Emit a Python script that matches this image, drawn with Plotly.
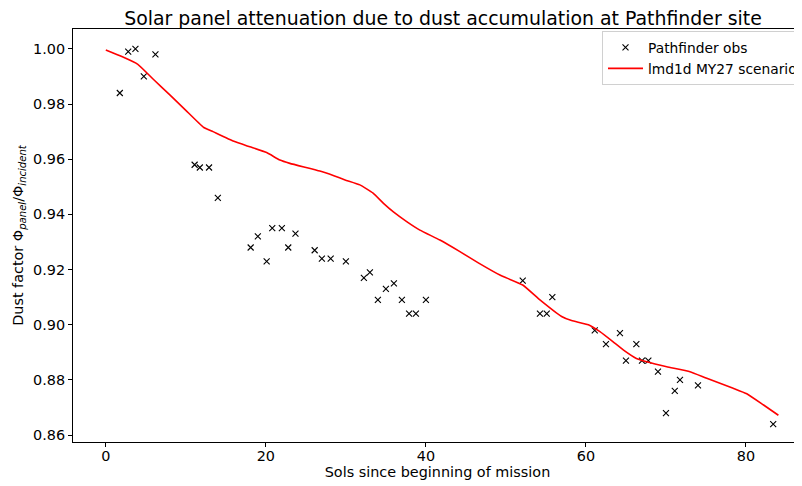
import plotly.graph_objects as go

# Observations (Pathfinder)
obs_sol = [1.75, 2.8, 3.7, 4.75, 6.2, 11.1, 11.75, 12.9, 14.0,
           18.1, 19.0, 20.1, 20.8, 22.0, 22.8, 23.7, 26.1, 27.0, 28.1, 30.0,
           32.25, 33.0, 34.0, 35.0, 36.0, 37.0, 37.9, 38.75, 40.0,
           52.1, 54.25, 55.1, 55.8, 61.1, 62.5, 64.25, 65.0, 66.3, 67.0, 67.8,
           69.0, 70.0, 71.1, 71.75, 74.0, 83.4]
obs_val = [0.984, 0.999, 1.000, 0.990, 0.998, 0.958, 0.957, 0.957, 0.946,
           0.928, 0.932, 0.923, 0.935, 0.935, 0.928, 0.933, 0.927, 0.924, 0.924, 0.923,
           0.917, 0.919, 0.909, 0.913, 0.915, 0.909, 0.904, 0.904, 0.909,
           0.916, 0.904, 0.904, 0.910, 0.898, 0.893, 0.897, 0.887, 0.893, 0.887, 0.887,
           0.883, 0.868, 0.876, 0.880, 0.878, 0.864]

# Model scenario
mod_sol = [0, 2, 4.0, 6, 8, 10, 12.2, 13.4, 16, 18, 20.1, 21.75, 23, 26.75, 28.5,
           29.9, 31.75, 33.4, 34.7, 35.9, 37.6, 39.25, 41.75, 44.25, 46.5, 49.25,
           52.1, 54.25, 56.96, 58.2, 60.3, 61.75, 63.4, 64.7, 66.3, 67.6, 70.1, 73,
           75.1, 78.4, 80.1, 82.2, 84.05]
mod_val = [0.9996, 0.9972, 0.9944, 0.9888, 0.9833, 0.9777, 0.9716, 0.9700, 0.9665,
           0.9645, 0.9624, 0.9597, 0.9585, 0.9557, 0.9540, 0.9525, 0.9507, 0.9477,
           0.9440, 0.9410, 0.9374, 0.9343, 0.9307, 0.9265, 0.9225, 0.9180, 0.9144,
           0.9090, 0.9030, 0.9015, 0.9000, 0.8975, 0.8938, 0.8908, 0.8878, 0.8866,
           0.8848, 0.8830, 0.8806, 0.8770, 0.8750, 0.8709, 0.8672]

FONT = "DejaVu Sans"
# the page body adds an 8 px offset; the figure is sized to fit the window
W, H = 794, 478
L, T, B = 65, 21, 44
PW, PH = W - L, H - T - B

fig = go.Figure()
fig.add_trace(go.Scatter(
    x=obs_sol, y=obs_val, mode="markers", name="Pathfinder obs",
    marker=dict(symbol="x-thin", size=6, color="black",
                line=dict(color="black", width=1.1)),
))
fig.add_trace(go.Scatter(
    x=mod_sol, y=mod_val, mode="lines", name="lmd1d MY27 scenario",
    line=dict(color="#ff0000", width=1.6, shape="spline", smoothing=0.4),
))

fig.update_layout(
    width=W, height=H,
    margin=dict(l=L, r=0, t=T, b=B, autoexpand=False),
    paper_bgcolor="white", plot_bgcolor="white",
    font=dict(family=FONT, size=14.4, color="black"),
    title=dict(text="Solar panel attenuation due to dust accumulation at Pathfinder site",
               x=(435 - L) / PW, xref="paper", xanchor="center",
               y=1 - 10 / H, yref="container", yanchor="middle",
               font=dict(family=FONT, size=18.9, color="black")),
    showlegend=True,
    legend=dict(x=(594 - L) / PW, y=1 - (23 - T) / PH, xanchor="left", yanchor="top",
                bgcolor="white", bordercolor="#d0d0d0", borderwidth=1,
                font=dict(family=FONT, size=13.8, color="black"),
                tracegroupgap=0, itemwidth=35),
    xaxis=dict(range=[-4.1, 87.0], dtick=20, tick0=0, showgrid=False, zeroline=False,
               showline=True, linecolor="black", linewidth=1, mirror=True,
               ticks="outside", ticklen=4, tickcolor="black", automargin=False,
               ticklabelstandoff=-3,
               title=dict(text="Sols since beginning of mission", standoff=1,
                          font=dict(family=FONT, size=14.4))),
    yaxis=dict(range=[0.8575, 1.0072], dtick=0.02, tick0=0.86, tickformat=".2f",
               showgrid=False, zeroline=False, automargin=False,
               showline=True, linecolor="black", linewidth=1, mirror=False,
               ticks="outside", ticklen=4, tickcolor="black",
               title=dict(text="Dust factor Φ<sub><i>panel</i></sub>/Φ<sub><i>incident</i></sub>",
                          standoff=6, font=dict(family=FONT, size=14.4))),
)

fig.write_html("out.html")
